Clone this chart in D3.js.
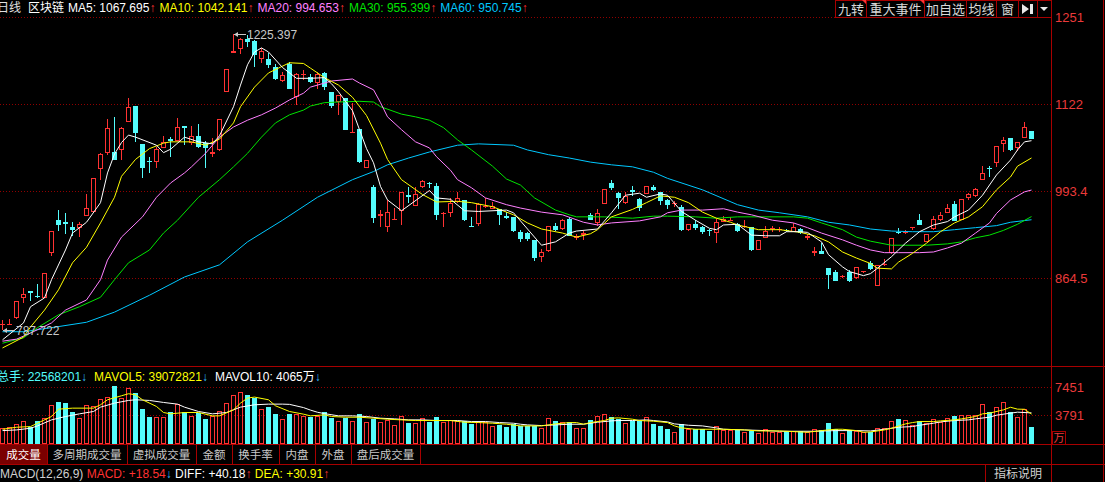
<!DOCTYPE html>
<html>
<head>
<meta charset="utf-8">
<script src="https://cdn.jsdelivr.net/npm/d3@7"></script>
<style>
body { margin: 0; background: #000; overflow: hidden; }
svg { display: block; }
</style>
</head>
<body>
<div id="chart"></div>
<script>
// daily candles (price)
const opens = [795,796,805,835,845,838,835,902,950,947,940,939,956,962,1026,1050,1051,1054,1095,1119,
  1063,1037,1036,1057,1070,1067,1089,1064,1075,1064,1048,1054,1140,1198,1203,1218,1215,1189,1189,1177,
  1156,1181,1132,1165,1162,1153,1168,1140,1125,1131,1079,1085,1027,999,956,940,951,964,987,971,
  999,1005,1001,960,961,977,980,941,944,969,967,967,956,955,933,931,921,896,905,942,
  937,952,924,928,958,946,974,1005,990,976,994,982,989,999,992,980,975,970,936,945,
  940,935,931,948,950,944,940,940,906,924,937,936,936,933,937,924,902,905,879,873,
  866,873,864,874,887,853,883,902,933,932,938,950,918,937,950,961,974,950,983,986,
  1010,1028,1035,1063,1072,1057,1072,1082];
const highs = [802,804,831,850,845,856,872,934,965,961,947,947,989,1013,1050,1100,1103,1088,1131,1119,
  1063,1044,1058,1075,1073,1101,1090,1090,1092,1067,1072,1100,1174,1225.397,1220,1224,1217,1205,1198,1181,
  1169,1184,1168,1172,1167,1170,1170,1140,1135,1131,1124,1085,1039,1002,965,980,968,992,999,999,
  1009,1007,1005,962,983,992,980,955,976,983,977,967,962,955,935,933,921,907,942,946,
  952,955,930,934,960,966,996,1009,992,992,1000,983,1001,1002,992,982,978,972,945,950,
  942,937,953,956,955,946,950,940,921,941,942,940,937,946,938,929,910,916,879,876,
  869,877,881,875,890,884,893,924,939,935,940,959,930,956,962,974,978,982,991,997,
  1030,1030,1060,1073,1072,1066,1095,1082];
const lows = [787.722,795,804,828,830,835,835,897,934,930,927,925,956,962,1010,1046,1039,1039,1095,1066,
  1012,1020,1027,1057,1043,1067,1061,1061,1057,1028,1043,1053,1140,1197,1196,1206,1177,1183,1175,1157,
  1154,1144,1120,1158,1153,1144,1142,1116,1106,1084,1079,1034,1027,946,940,933,950,943,975,971,
  997,997,950,940,955,975,949,940,941,968,966,943,952,932,918,919,890,888,903,934,
  935,926,920,920,950,941,974,994,966,974,986,963,989,993,972,967,969,934,934,935,
  930,926,917,947,949,932,939,905,906,923,933,933,932,933,930,920,897,900,848,860,
  865,859,863,872,876,852,882,900,929,929,935,943,918,936,949,960,949,950,980,985,
  1009,1014,1029,1051,1053,1053,1072,1070];
const closes = [796,797,830,841,843,836,872,934,943,945,936,944,968,1013,1048,1087,1039,1087,1118,1079,
  1027,1036,1056,1066,1067,1088,1087,1075,1058,1057,1051,1100,1174,1200,1218,1214,1195,1200,1180,1159,
  1165,1144,1166,1167,1155,1167,1147,1119,1135,1084,1081,1036,1039,953,959,962,952,992,985,989,
  1008,1003,958,961,976,983,950,940,974,971,971,958,953,934,922,922,894,903,942,936,
  950,927,927,931,950,961,996,998,983,986,992,968,1001,995,978,973,976,936,945,939,
  933,934,948,952,951,934,942,906,921,934,939,937,935,940,931,926,904,900,869,860,
  868,860,881,875,878,884,885,924,932,933,940,943,930,952,958,968,949,981,989,996,
  1020,1027,1060,1069,1054,1066,1088,1070];

// volume in 万手
const volumes = [2059,2190,2628,3022,2190,3022,3373,5125,5519,5387,4205,3373,5125,4993,5913,6132,7534,6001,7315,6658,
  4599,3548,3548,3548,4205,5212,4205,3679,4073,3285,3679,4336,5387,6439,6833,6439,6044,4599,4862,3942,
  3285,3942,3942,3679,3548,3679,4205,3416,3022,3416,3022,3942,2891,3285,2891,3154,2497,3679,2759,2759,
  3373,2891,3548,2891,3154,3022,3022,2628,2891,2891,2365,2497,2234,2628,2321,2321,2321,2102,3416,3022,
  2891,2891,2102,2102,3154,3679,3942,3548,3285,2759,3022,3022,3548,2628,2365,1971,1577,2628,1971,1971,
  1971,1708,2365,1840,1840,1840,1577,1708,1445,1927,1577,1577,1708,1708,1708,1577,1971,1840,2759,1971,
  1445,1840,1708,1577,1577,2102,2102,3022,3285,3154,2497,3022,2759,3285,2891,3416,3679,3811,3811,3811,
  5256,4205,4862,5519,4205,3548,4599,2257];

// moving averages, [day index, value]
const ma5 = [[0,773],[3,798],[4,822],[6,835],[7,862],[9,906],[10,931],[12,947],[14,976],[15,1020],[16,1048],[17,1065],
  [18,1076],[19,1073],[22,1061],[23,1050],[24,1055],[26,1073],[28,1066],[30,1063],[31,1075],[33,1118],[34,1150],
  [35,1180],[36,1199],[37,1205],[38,1199],[40,1176],[42,1160],[44,1160],[46,1161],[47,1152],[48,1140],[50,1112],
  [51,1084],[52,1056],[53,1035],[54,1000],[55,980],[57,964],[61,994],[62,983],[64,981],[66,964],[68,963],[72,965],
  [73,961],[77,913],[79,918],[81,931],[82,934],[85,937],[87,961],[89,987],[91,990],[92,984],[94,989],[95,987],
  [97,963],[99,950],[101,938],[102,936],[103,943],[105,944],[107,928],[109,927],[111,927],[112,933],[114,933],
  [115,932],[117,918],[118,899],[120,881],[121,874],[123,868],[124,871],[125,879],[127,896],[129,916],[131,933],
  [133,943],[135,948],[136,955],[138,965],[140,987],[142,1017],[144,1039],[145,1054],[146,1066],[147,1067.695]];
const ma10 = [[0,761],[3,777],[4,792],[6,817],[8,847],[10,887],[12,910],[14,946],[16,984],[17,1015],[19,1040],
  [21,1056],[23,1064],[24,1066],[27,1066],[29,1061],[31,1070],[33,1094],[34,1118],[36,1147],[38,1168],[41,1183],
  [43,1182],[44,1175],[46,1161],[48,1150],[50,1132],[52,1105],[54,1064],[55,1040],[57,1010],[60,988],[62,977],
  [65,978],[67,976],[70,970],[73,958],[75,946],[77,937],[80,931],[82,925],[84,930],[85,936],[87,955],[90,966],
  [92,976],[94,986],[96,984],[98,976],[100,962],[102,953],[104,947],[105,943],[108,936],[111,936],[114,932],
  [116,927],[118,918],[120,903],[122,894],[124,886],[125,879],[127,878],[128,888],[130,901],[132,916],[134,933],
  [136,946],[138,955],[140,970],[142,995],[144,1014],[145,1030],[147,1042.141]];
const ma20 = [[0,771],[2,774],[4,783],[7,798],[9,817],[12,832],[14,862],[15,891],[17,925],[20,955],[22,984],
  [24,1005],[26,1020],[27,1029],[29,1049],[31,1073],[33,1088],[35,1098],[37,1106],[39,1116],[41,1128],[43,1138],
  [44,1147],[46,1153],[47,1156],[50,1159],[51,1153],[53,1143],[54,1124],[55,1103],[57,1084],[59,1066],[61,1057],
  [62,1044],[64,1024],[65,1010],[67,998],[69,983],[72,973],[74,968],[77,962],[80,958],[83,947],[85,943],[87,946],
  [91,949],[94,955],[95,961],[97,965],[100,965],[103,967],[105,962],[107,958],[110,950],[113,946],[115,939],
  [117,931],[120,921],[122,913],[124,906],[126,902],[128,902],[131,902],[133,903],[135,909],[137,916],[139,931],
  [141,946],[142,960],[144,980],[146,992],[147,994.653]];
const ma30 = [[0,768],[3,776],[5,791],[8,810],[11,822],[14,836],[16,862],[18,887],[21,906],[23,931],[25,950],
  [28,984],[31,1010],[33,1029],[35,1049],[37,1073],[39,1094],[41,1106],[43,1113],[44,1119],[46,1124],[48,1125],
  [51,1126],[53,1125],[54,1118],[57,1107],[59,1103],[61,1098],[63,1087],[65,1069],[67,1054],[70,1030],[72,1011],
  [74,1002],[76,983],[79,965],[81,958],[82,955],[86,955],[90,953],[93,956],[95,956],[99,955],[102,953],[105,955],
  [108,955],[113,955],[115,953],[117,946],[120,936],[122,925],[124,919],[127,913],[129,913],[132,913],[135,915],
  [137,918],[139,924],[141,928],[143,935],[145,944],[147,955.399]];
const ma60 = [[0,785],[3,785],[7,791],[12,799],[16,814],[21,839],[26,866],[31,884],[35,918],[40,950],[45,984],
  [50,1010],[53,1022],[55,1032],[58,1042],[61,1051],[65,1061],[68,1063],[73,1061],[75,1054],[78,1047],[81,1042],
  [84,1036],[87,1032],[90,1029],[93,1021],[95,1012],[100,995],[105,973],[108,965],[111,961],[115,955],[118,947],
  [121,943],[124,937],[127,934],[130,933],[133,933],[136,936],[139,939],[142,942],[144,947],[147,950.745]];

// volume moving averages, [day index, value]
const mavol5 = [[0,1927],[2,2190],[4,2278],[5,2716],[7,3592],[8,4555],[10,4687],[13,4687],[14,5125],[15,5782],
  [17,6307],[18,6570],[19,6439],[20,5782],[22,4906],[23,4117],[24,3942],[26,4117],[28,4117],[30,3679],[31,3679],
  [33,4468],[34,5344],[35,6001],[36,6132],[38,5782],[39,4993],[41,4249],[43,3898],[44,3679],[46,3811],[47,3592],
  [49,3504],[51,3504],[53,3373],[55,3241],[57,3154],[59,3066],[61,3066],[64,3066],[66,2847],[68,2803],[70,2716],
  [72,2584],[74,2365],[77,2365],[79,2628],[81,2803],[82,2803],[83,2584],[84,2803],[86,3066],[87,3373],[88,3416],
  [90,3241],[91,3066],[93,2978],[95,2803],[96,2365],[97,2102],[99,1927],[103,1927],[106,1840],[108,1708],
  [111,1708],[113,1621],[115,1533],[117,1752],[119,1927],[120,1927],[122,1752],[123,1533],[124,1577],[126,1840],
  [127,2059],[129,2628],[130,2803],[131,2935],[133,2935],[134,3022],[136,3154],[137,3285],[139,3592],[140,3942],
  [141,4030],[143,4468],[144,4800],[145,4555],[146,4540],[147,3907]];
const mavol10 = [[0,1752],[2,1840],[4,2059],[5,2365],[7,3154],[9,3592],[11,3942],[13,4249],[14,4818],[16,5344],
  [18,5694],[19,5782],[21,5694],[23,5431],[25,5212],[26,4818],[28,4249],[30,3942],[32,4117],[34,4818],[36,5125],
  [38,5212],[40,5212],[41,5180],[43,4760],[44,4430],[45,4150],[46,3970],[48,3679],[50,3679],[52,3592],[54,3373],
  [56,3285],[58,3154],[60,3154],[62,3066],[65,3066],[67,2935],[69,2935],[71,2803],[73,2716],[74,2584],[75,2497],
  [77,2409],[79,2497],[81,2584],[83,2584],[85,2847],[87,3022],[88,3066],[90,3066],[92,3154],[93,3066],[95,2891],
  [96,2628],[98,2453],[100,2365],[102,2102],[103,1927],[106,1840],[109,1752],[111,1664],[116,1664],[119,1752],
  [122,1752],[124,1708],[126,1927],[128,2190],[130,2278],[131,2453],[133,2716],[134,2891],[136,3066],[138,3154],
  [139,3285],[141,3504],[142,3767],[144,4030],[145,4161],[147,4065]];

const priceTicks = [864.5, 993.4, 1122, 1251];
const volTicks = [3791, 7451];
const maNames = ["MA5", "MA10", "MA20", "MA30", "MA60"];
const maLast = ["1067.695", "1042.141", "994.653", "955.399", "950.745"];
const volLegend = [["总手", "22568201"], ["MAVOL5", "39072821"], ["MAVOL10", "4065万"]];
const macdLegend = [["MACD", "+18.54", "↓"], ["DIFF", "+40.18", "↑"], ["DEA", "+30.91", "↑"]];
const tabs = ["成交量", "多周期成交量", "虚拟成交量", "金额", "换手率", "内盘", "外盘", "盘后成交量"];
const buttons = ["九转", "重大事件", "加自选", "均线", "窗"];

const RED = "#ff3232", CYAN = "#54fcfc", GRID = "#900000", AXIS = "#a80000", LABEL = "#ea3a3a";
const maColors = ["#ffffff", "#ffff00", "#ff80ff", "#00e400", "#00c8ff"];
const FONT = "Arial, 'Liberation Sans', 'Noto Sans CJK SC', sans-serif";
const N = closes.length;
const plotRight = 1051;

const svg = d3.select("#chart").append("svg")
    .attr("width", 1105)
    .attr("height", 482)
    .style("background", "#000")
    .attr("font-family", FONT);

const x = d3.scaleBand()
    .domain(d3.range(N))
    .range([-1.5, 1034.5])
    .paddingInner(0.3)
    .paddingOuter(0.15);
const px = i => Math.round(x(i) + x.bandwidth() / 2);

const y = d3.scaleLinear().domain([864.5, 1122]).range([278, 104]);
const yv = d3.scaleLinear().domain([0, 7451]).range([444, 387]);

// grid lines
function grid(scale, ticks) {
    svg.append("g").selectAll("line")
        .data(ticks)
        .join("line")
        .attr("x1", 0).attr("x2", plotRight)
        .attr("y1", d => Math.round(scale(d)) + 0.5)
        .attr("y2", d => Math.round(scale(d)) + 0.5)
        .attr("stroke", GRID)
        .attr("stroke-dasharray", "1,2");
}
grid(y, priceTicks);
grid(yv, volTicks);

// panel frame
const frame = svg.append("g").attr("stroke", AXIS).attr("shape-rendering", "crispEdges");
[366.5, 444.5, 464.5].forEach(v => frame.append("line").attr("x1", 0).attr("x2", 1105).attr("y1", v).attr("y2", v));
frame.append("line").attr("x1", plotRight + 0.5).attr("x2", plotRight + 0.5).attr("y1", 0).attr("y2", 482);
frame.append("line").attr("x1", 1103.5).attr("x2", 1103.5).attr("y1", 0).attr("y2", 482);

// candles
const candles = d3.range(N).map(i => ({ i, o: opens[i], h: highs[i], l: lows[i], c: closes[i], up: closes[i] >= opens[i] }));
const cg = svg.append("g").attr("shape-rendering", "crispEdges");

cg.selectAll(".wick")
    .data(candles)
    .join("path")
    .attr("class", "wick")
    .attr("stroke", d => d.up ? RED : CYAN)
    .attr("fill", "none")
    .attr("d", d => {
        const cx = px(d.i) + 0.5;
        const t = Math.round(y(Math.max(d.o, d.c))), b = Math.round(y(Math.min(d.o, d.c)));
        const hi = Math.round(y(d.h)), lo = Math.round(y(d.l));
        if (d.up) return `M${cx},${hi}V${t}M${cx},${b}V${lo}`;
        return `M${cx},${hi}V${lo}`;
    });

cg.selectAll(".body")
    .data(candles)
    .join("rect")
    .attr("class", "body")
    .each(function (d) {
        const t = Math.round(y(Math.max(d.o, d.c))), b = Math.round(y(Math.min(d.o, d.c)));
        const el = d3.select(this);
        if (b - t < 2) {
            el.attr("x", px(d.i) - 2).attr("y", t).attr("width", 5).attr("height", 1)
                .attr("fill", d.up ? RED : CYAN);
        } else if (d.up) {
            el.attr("x", px(d.i) - 1.5).attr("y", t + 0.5).attr("width", 4).attr("height", b - t - 1)
                .attr("fill", "#000").attr("stroke", RED);
        } else {
            el.attr("x", px(d.i) - 2).attr("y", t).attr("width", 5).attr("height", b - t)
                .attr("fill", CYAN);
        }
    });

// price moving averages
const maLine = d3.line().x(d => px(d[0]) + 0.5).y(d => y(d[1]));
[ma60, ma30, ma20, ma10, ma5].forEach((pts, k) => {
    svg.append("path")
        .datum(pts)
        .attr("d", maLine)
        .attr("fill", "none")
        .attr("stroke", maColors[4 - k])
        .attr("stroke-width", 1);
});

// highest / lowest marks
function extremeMark(i, val) {
    const cx = px(i), cy = Math.round(y(val)) + 0.5;
    const g = svg.append("g").attr("fill", "#c8c8c8").attr("stroke", "#c8c8c8");
    g.append("line").attr("x1", cx + 1).attr("x2", cx + 13).attr("y1", cy).attr("y2", cy);
    g.append("path").attr("d", `M${cx + 1},${cy}l4,-2.5v5z`).attr("stroke", "none");
    g.append("text").attr("x", cx + 14).attr("y", cy + 4.5).attr("stroke", "none")
        .attr("font-size", 12).text(d3.format(".3f")(val));
}
const hiIdx = d3.maxIndex(highs), loIdx = d3.minIndex(lows);
extremeMark(hiIdx, highs[hiIdx]);
extremeMark(loIdx, lows[loIdx]);

// volume bars
const vg = svg.append("g").attr("shape-rendering", "crispEdges");
vg.selectAll("rect")
    .data(candles)
    .join("rect")
    .each(function (d) {
        const top = Math.round(yv(volumes[d.i]));
        const el = d3.select(this);
        if (d.up) {
            el.attr("x", px(d.i) - 1.5).attr("y", top + 0.5).attr("width", 4).attr("height", 444 - top - 1)
                .attr("fill", "none").attr("stroke", RED);
        } else {
            el.attr("x", px(d.i) - 2).attr("y", top).attr("width", 5).attr("height", 444 - top)
                .attr("fill", CYAN);
        }
    });

const volLine = d3.line().x(d => px(d[0]) + 0.5).y(d => yv(d[1]));
[[mavol10, "#ffffff"], [mavol5, "#ffff00"]].forEach(([pts, col]) => {
    svg.append("path").datum(pts).attr("d", volLine)
        .attr("fill", "none").attr("stroke", col).attr("stroke-width", 1);
});

// right axes
function rightAxis(scale, ticks, fmt) {
    const g = svg.append("g")
        .attr("transform", `translate(${plotRight},0)`)
        .call(d3.axisRight(scale).tickValues(ticks).tickSize(0).tickPadding(4).tickFormat(fmt));
    g.select(".domain").remove();
    g.attr("font-size", 13).attr("font-family", FONT);
    g.selectAll("text").attr("fill", LABEL);
}
rightAxis(y, priceTicks, d => d >= 1000 ? d3.format("d")(d) : d3.format(".1f")(d));
rightAxis(yv, volTicks, d3.format("d"));

svg.append("rect").attr("x", 1052.5).attr("y", 431.5).attr("width", 13).attr("height", 13)
    .attr("fill", "none").attr("stroke", AXIS);
svg.append("text").attr("x", 1059).attr("y", 442).attr("text-anchor", "middle")
    .attr("font-size", 11).attr("fill", LABEL).text("万");

// top legend
svg.append("text").attr("x", -3).attr("y", 12).attr("font-size", 12).attr("fill", "#e0e0e0").text("日线");
svg.append("text").attr("x", 28).attr("y", 12).attr("font-size", 12).attr("fill", "#ffffff").text("区块链");
let lx = 68;
maNames.forEach((name, k) => {
    const t = svg.append("text").attr("x", lx).attr("y", 12).attr("font-size", 12);
    t.append("tspan").attr("fill", maColors[k]).text(`${name}: ${maLast[k]}`);
    t.append("tspan").attr("fill", RED).text("↑");
    lx += t.node().getComputedTextLength() + 4;
});

// top right buttons
const btnWidths = [31, 58, 42, 30, 22, 19, 14];
let bx = 835;
const bg = svg.append("g");
btnWidths.forEach((w, k) => {
    bg.append("rect").attr("x", bx + 0.5).attr("y", 0.5).attr("width", w).attr("height", 17)
        .attr("fill", "#000").attr("stroke", AXIS);
    if (k < buttons.length) {
        bg.append("text").attr("x", bx + w / 2 + 0.5).attr("y", 14).attr("text-anchor", "middle")
            .attr("font-size", 13).attr("fill", "#d8d8d8").text(buttons[k]);
    }
    if (k < 2) bg.append("path").attr("d", `M${bx + w - 4},0h5v5z`).attr("fill", RED);
    if (k === 5) bg.append("path").attr("d", `M${bx + 4},4v10l7,-5z M${bx + 12},4h3v10h-3z`).attr("fill", "#e8e8e8");
    if (k === 6) bg.append("path").attr("d", `M${bx + 3},7h8l-4,4z`).attr("fill", "#e8e8e8");
    bx += w;
});

// volume legend
const volColors = [CYAN, "#ffff00", "#ffffff"];
let vx = -3;
volLegend.forEach(([name, val], k) => {
    const t = svg.append("text").attr("x", vx).attr("y", 381).attr("font-size", 12);
    t.append("tspan").attr("fill", volColors[k]).text(`${name}: ${val}`);
    t.append("tspan").attr("fill", "#33bbff").text("↓");
    vx += t.node().getComputedTextLength() + 7;
});

// tabs
let tx = 0;
tabs.forEach((name, k) => {
    const w = name.length * 11 + 14;
    if (k === 0) svg.append("rect").attr("x", 0).attr("y", 445).attr("width", w).attr("height", 19).attr("fill", "#7a0000");
    svg.append("text").attr("x", tx + w / 2).attr("y", 459).attr("text-anchor", "middle")
        .attr("font-size", 11.5).attr("fill", k === 0 ? "#ffffff" : "#c8c8c8").text(name);
    svg.append("line").attr("x1", tx + w + 0.5).attr("x2", tx + w + 0.5).attr("y1", 445).attr("y2", 464)
        .attr("stroke", AXIS);
    tx += w;
});

// MACD row
const mt = svg.append("text").attr("x", 0).attr("y", 478).attr("font-size", 12);
mt.append("tspan").attr("fill", "#d0d0d0").text("MACD(12,26,9) ");
const macdColors = [RED, "#ffffff", "#ffff00"];
macdLegend.forEach(([name, val, arrow], k) => {
    mt.append("tspan").attr("fill", macdColors[k]).text(`${name}: ${val}`);
    mt.append("tspan").attr("fill", arrow === "↓" ? "#33bbff" : RED).text(arrow + " ");
});

svg.append("line").attr("x1", 985.5).attr("x2", 985.5).attr("y1", 465).attr("y2", 482).attr("stroke", AXIS);
svg.append("text").attr("x", 1018).attr("y", 478).attr("text-anchor", "middle")
    .attr("font-size", 12).attr("fill", "#d0d0d0").text("指标说明");
svg.append("text").attr("x", 1058).attr("y", 491).attr("font-size", 13).attr("fill", LABEL).text("77.64");
</script>
</body>
</html>
